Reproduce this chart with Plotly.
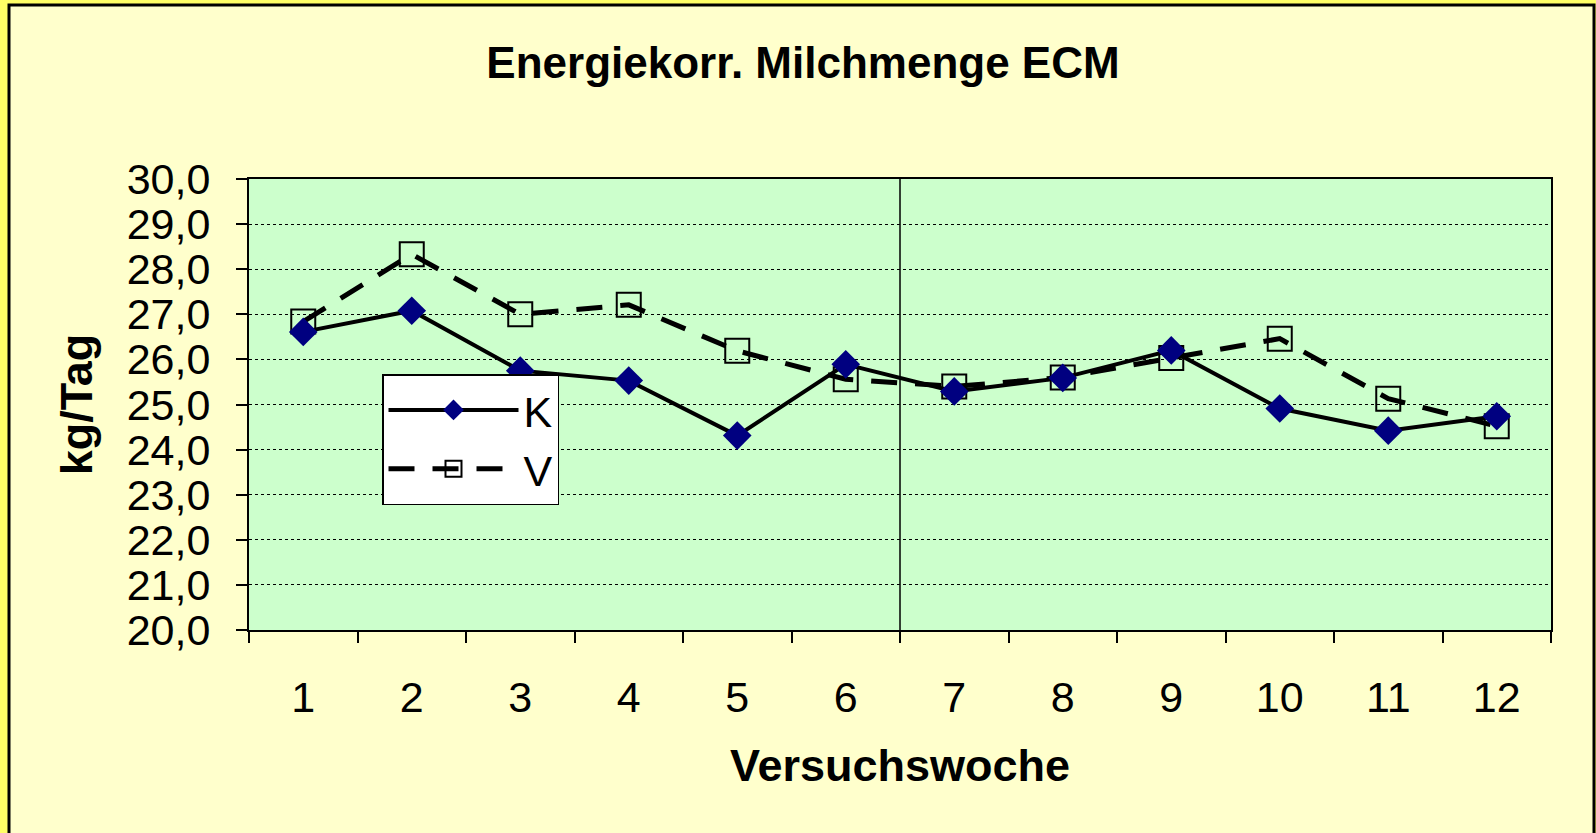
import plotly.graph_objects as go

weeks = list(range(1, 13))
week_labels = [str(w) for w in weeks]
k_values = [26.61, 27.08, 25.75, 25.53, 24.31, 25.89, 25.29, 25.59, 26.20, 24.91, 24.42, 24.74]
v_values = [26.84, 28.33, 27.00, 27.21, 26.19, 25.56, 25.40, 25.60, 26.03, 26.46, 25.13, 24.52]
boundaries = [w - 0.5 for w in weeks] + [12.5]

W, H = 1596, 833
L, R, T, B = 249, 45, 179, 203
pw, ph = W - L - R, H - T - B

def px_x(p):
    return (p - L) / pw

def px_y(p):
    return 1 - (p - T) / ph

FONT = "Liberation Sans, Arial, sans-serif"
TICK = 43
TITLE = 45

fig = go.Figure()
fig.add_trace(go.Scatter(
    x=weeks, y=v_values, name="V", mode="lines+markers", legendrank=2,
    line=dict(color="black", width=5, dash="26px,18px"),
    marker=dict(symbol="square-open", size=24, color="black", line=dict(width=2, color="black")),
))
fig.add_trace(go.Scatter(
    x=weeks, y=k_values, name="K", mode="lines+markers", legendrank=1,
    line=dict(color="black", width=4),
    marker=dict(symbol="diamond", size=22, color="#000080", line=dict(width=0)),
))

# outer frame and backgrounds
fig.add_shape(type="rect", xref="paper", yref="paper",
              x0=px_x(9), x1=px_x(1594), y0=px_y(845), y1=px_y(5),
              fillcolor="#FFFFCC", line=dict(color="black", width=3), layer="below")
fig.add_shape(type="rect", xref="paper", yref="paper", x0=0, x1=1, y0=0, y1=1,
              fillcolor="#CCFFCC", line=dict(width=0), layer="below")
fig.add_shape(type="line", xref="x", yref="paper", x0=6.5, x1=6.5, y0=0, y1=1,
              line=dict(color="black", width=1.5), layer="above")

fig.update_layout(
    width=W, height=H,
    margin=dict(l=L, r=R, t=T, b=B),
    paper_bgcolor="#FFFF66",
    plot_bgcolor="#CCFFCC",
    separators=",.",
    font=dict(family=FONT, size=TICK, color="black"),
    title=dict(text="<b>Energiekorr. Milchmenge ECM</b>", x=803 / W, xanchor="center",
               y=1 - 63 / H, yanchor="middle", font=dict(size=44, family=FONT)),
    showlegend=True,
    legend=dict(x=px_x(382), y=px_y(374), xanchor="left", yanchor="top",
                bgcolor="white", bordercolor="black", borderwidth=1.5,
                font=dict(size=TICK, family=FONT), traceorder="normal",
                itemwidth=130),
    xaxis=dict(
        range=[0.5, 12.5], tickmode="array", tickvals=weeks, ticktext=week_labels,
        ticks="", showgrid=False, zeroline=False,
        showline=True, linecolor="black", linewidth=2, mirror=True,
        ticklabelstandoff=28,
        minor=dict(tickmode="array", tickvals=boundaries, ticks="outside",
                   ticklen=11, tickwidth=1.5, tickcolor="black", showgrid=False),
        title=dict(text="<b>Versuchswoche</b>", font=dict(size=TITLE, family=FONT), standoff=30),
        tickfont=dict(size=TICK, family=FONT),
    ),
    yaxis=dict(
        range=[20, 30], dtick=1, tick0=20, tickformat=".1f",
        ticks="outside", ticklen=11, tickwidth=1.5, tickcolor="black",
        showgrid=True, gridcolor="black", gridwidth=1, griddash="dot",
        zeroline=False, showline=True, linecolor="black", linewidth=2, mirror=True,
        ticklabelstandoff=17,
        title=dict(text="<b>kg/Tag</b>", font=dict(size=TITLE, family=FONT), standoff=20),
        tickfont=dict(size=TICK, family=FONT),
    ),
)

fig.write_html("out.html", config={"displayModeBar": False},
               post_script="document.body.style.margin='0';document.body.style.overflow='hidden';")
